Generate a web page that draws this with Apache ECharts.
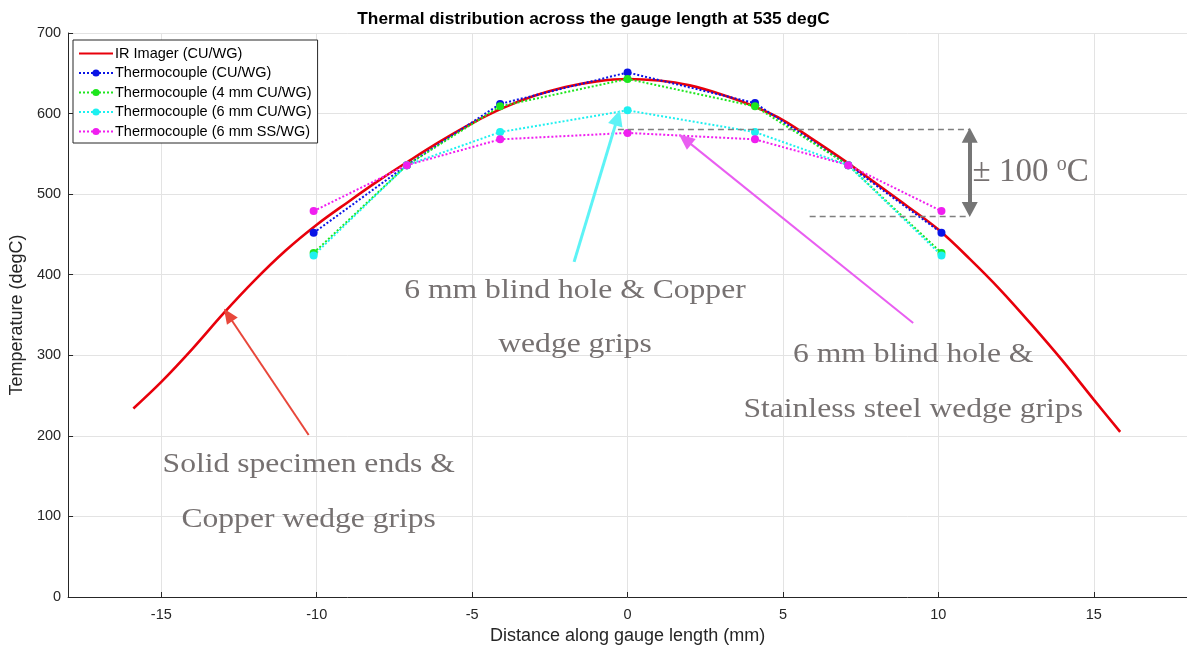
<!DOCTYPE html>
<html>
<head>
<meta charset="utf-8">
<script src="https://cdn.jsdelivr.net/npm/echarts@6/dist/echarts.min.js"></script>
<style>
  html, body { margin: 0; padding: 0; background: #ffffff; }
  #chart { width: 1187px; height: 651px; }
</style>
</head>
<body>
<div id="chart"></div>
<script>
// IR imager profile along the gauge length (mm, degC)
const irX = [-15.9, -15, -14, -13, -12, -11, -10, -9, -8, -7, -6, -5, -4, -3, -2, -1, 0,
             1, 2, 3, 4, 5, 6, 7, 8, 9, 10, 11, 12, 13, 14, 15, 15.85];
const irTemp = [234, 267, 308, 352, 393, 430, 462, 490, 517, 542, 566, 588, 607, 622, 633, 640, 643,
                641, 635, 624, 610, 592, 567, 541, 513, 485, 456, 420, 381, 338, 293, 245, 205];

// Thermocouple positions (mm) and readings (degC)
const tcX = [-10.1, -7.1, -4.1, 0, 4.1, 7.1, 10.1];
const tcCuWg = [452, 536, 612, 651, 613, 536, 452];
const tc4mmCuWg = [427, 536, 609, 643, 609, 536, 427];
const tc6mmCuWg = [424, 536, 577, 604, 577, 536, 424];
const tc6mmSsWg = [479, 536, 568, 576, 568, 536, 479];

const seriesNames = [
  'IR Imager (CU/WG)',
  'Thermocouple (CU/WG)',
  'Thermocouple (4 mm CU/WG)',
  'Thermocouple (6 mm CU/WG)',
  'Thermocouple (6 mm SS/WG)'
];
const xTicks = [-15, -10, -5, 0, 5, 10, 15];

function pairs(xs, ys) { return xs.map((x, i) => [x, ys[i]]); }

const textGrey = '#767171';
const axisFont = 'Liberation Sans, Arial, sans-serif';

// Arrows pointing at the curves (data coordinates: tail -> head)
const arrows = [
  { from: [-10.26, 201], to: [-12.85, 350], color: '#e8473b', width: 2, head: [13, 15] },
  { from: [-1.72, 416], to: [-0.32, 595], color: '#5df3f6', width: 3, head: [15, 16] },
  { from: [9.19, 340], to: [1.85, 568], color: '#e95ef1', width: 2, head: [14, 16] }
];

// Annotation texts (centre, data coordinates)
const notes = [
  { at: [-1.69, 380], text: '6 mm blind hole & Copper' },
  { at: [-1.69, 313], text: 'wedge grips' },
  { at: [9.19, 300], text: '6 mm blind hole &' },
  { at: [9.19, 232], text: 'Stainless steel wedge grips' },
  { at: [-10.26, 164], text: 'Solid specimen ends &' },
  { at: [-10.26, 96], text: 'Copper wedge grips' }
];

const bandTop = 581, bandBottom = 473;

const tcStyle = (color) => ({
  type: 'line',
  symbol: 'circle',
  symbolSize: 8,
  itemStyle: { color: color },
  lineStyle: { color: color, width: 2, type: [2, 2] },
  z: 3
});

const markLines = [];
arrows.forEach(a => {
  markLines.push([
    { coord: a.from, symbol: 'none', lineStyle: { color: a.color, width: a.width, type: 'solid' } },
    { coord: a.to, symbol: 'triangle', symbolSize: a.head }
  ]);
});
markLines.push([
  { coord: [-0.31, bandTop], symbol: 'none', lineStyle: { color: '#7f7f7f', width: 1.3, type: [6, 4] } },
  { coord: [11.01, bandTop], symbol: 'none' }
]);
markLines.push([
  { coord: [5.86, bandBottom], symbol: 'none', lineStyle: { color: '#7f7f7f', width: 1.3, type: [6, 4] } },
  { coord: [11.01, bandBottom], symbol: 'none' }
]);
markLines.push([
  { coord: [11.01, bandBottom + 8], symbol: 'triangle', symbolSize: [16, 15], lineStyle: { color: '#767676', width: 4, type: 'solid' } },
  { coord: [11.01, bandTop - 8], symbol: 'triangle', symbolSize: [16, 15] }
]);

const chart = echarts.init(document.getElementById('chart'), null, { renderer: 'canvas' });

const legendData = seriesNames.map((n, i) => i === 0
  ? { name: n, itemStyle: { color: 'rgba(0,0,0,0)', borderWidth: 0, opacity: 0 } }
  : { name: n });

const option = {
  animation: false,
  backgroundColor: '#ffffff',
  title: {
    text: 'Thermal distribution across the gauge length at 535 degC',
    left: 'center',
    top: 6,
    textStyle: { fontFamily: axisFont, fontSize: 17.3, fontWeight: 'bold', color: '#000000' }
  },
  legend: {
    data: legendData,
    orient: 'vertical',
    left: 73,
    top: 40,
    backgroundColor: '#ffffff',
    borderColor: '#262626',
    borderWidth: 1,
    borderRadius: 0,
    padding: [6, 6, 4, 5],
    itemGap: 4.5,
    itemWidth: 34,
    itemHeight: 9,
    textStyle: { fontFamily: axisFont, fontSize: 14.5, color: '#000000', padding: [0, 0, 0, -3] }
  },
  grid: { left: 65, top: 33, width: 1125, height: 564, containLabel: false },
  xAxis: {
    type: 'value',
    min: -18,
    max: 18,
    name: 'Distance along gauge length (mm)',
    nameLocation: 'middle',
    nameGap: 27,
    nameTextStyle: { fontFamily: axisFont, fontSize: 18, color: '#262626' },
    axisLine: { onZero: false, lineStyle: { color: '#262626', width: 1 } },
    axisTick: { inside: true, length: 5, customValues: xTicks, lineStyle: { color: '#262626' } },
    axisLabel: { customValues: xTicks, margin: 10, fontFamily: axisFont, fontSize: 14.5, color: '#262626' },
    splitLine: { show: true, lineStyle: { color: '#e3e3e3', width: 1 } }
  },
  yAxis: {
    type: 'value',
    min: 0,
    max: 700,
    interval: 100,
    name: 'Temperature (degC)',
    nameLocation: 'middle',
    nameGap: 38,
    nameTextStyle: { fontFamily: axisFont, fontSize: 18, color: '#262626' },
    axisLine: { show: true, onZero: false, lineStyle: { color: '#262626', width: 1 } },
    axisTick: { show: true, inside: true, length: 5, lineStyle: { color: '#262626' } },
    axisLabel: { margin: 7, fontFamily: axisFont, fontSize: 14.5, color: '#262626' },
    splitLine: { show: true, lineStyle: { color: '#e3e3e3', width: 1 } }
  },
  series: [
    {
      name: seriesNames[0],
      type: 'line',
      data: pairs(irX, irTemp),
      symbol: 'none',
      smooth: 0.35,
      lineStyle: { color: '#e8000b', width: 2.6 },
      itemStyle: { color: '#e8000b' },
      z: 2
    },
    Object.assign({ name: seriesNames[1], data: pairs(tcX, tcCuWg) }, tcStyle('#0a14e6')),
    Object.assign({ name: seriesNames[2], data: pairs(tcX, tc4mmCuWg) }, tcStyle('#1ee61e')),
    Object.assign({ name: seriesNames[3], data: pairs(tcX, tc6mmCuWg) }, tcStyle('#1ef0f0')),
    Object.assign({ name: seriesNames[4], data: pairs(tcX, tc6mmSsWg) }, tcStyle('#f01ef0')),
    {
      name: 'annotations',
      type: 'line',
      data: [],
      silent: true,
      z: 4,
      markLine: {
        silent: true,
        animation: false,
        label: { show: false },
        emphasis: { disabled: true },
        data: markLines
      }
    }
  ]
};

chart.setOption(option);

// Annotation texts placed through the grid's coordinate system
const graphics = notes.map(n => {
  const p = chart.convertToPixel({ gridIndex: 0 }, n.at);
  return {
    type: 'text',
    x: p[0],
    y: p[1],
    scaleX: 1.17,
    silent: true,
    z: 10,
    style: {
      text: n.text,
      fill: textGrey,
      font: '27px "Liberation Serif", "Times New Roman", serif',
      align: 'center',
      verticalAlign: 'middle'
    }
  };
});
const bandLabelPos = chart.convertToPixel({ gridIndex: 0 }, [11.1, (bandTop + bandBottom) / 2]);
graphics.push({
  type: 'text',
  x: bandLabelPos[0],
  y: bandLabelPos[1],
  silent: true,
  z: 10,
  style: {
    text: '{a|± 100 }{s|o}{a|C}',
    fill: textGrey,
    align: 'left',
    verticalAlign: 'middle',
    rich: {
      a: { fontFamily: '"Liberation Serif", serif', fontSize: 33, color: textGrey, lineHeight: 36 },
      s: { fontFamily: '"Liberation Serif", serif', fontSize: 20, color: textGrey, verticalAlign: 'top', lineHeight: 36 }
    }
  }
});
chart.setOption({ graphic: graphics });
</script>
</body>
</html>
